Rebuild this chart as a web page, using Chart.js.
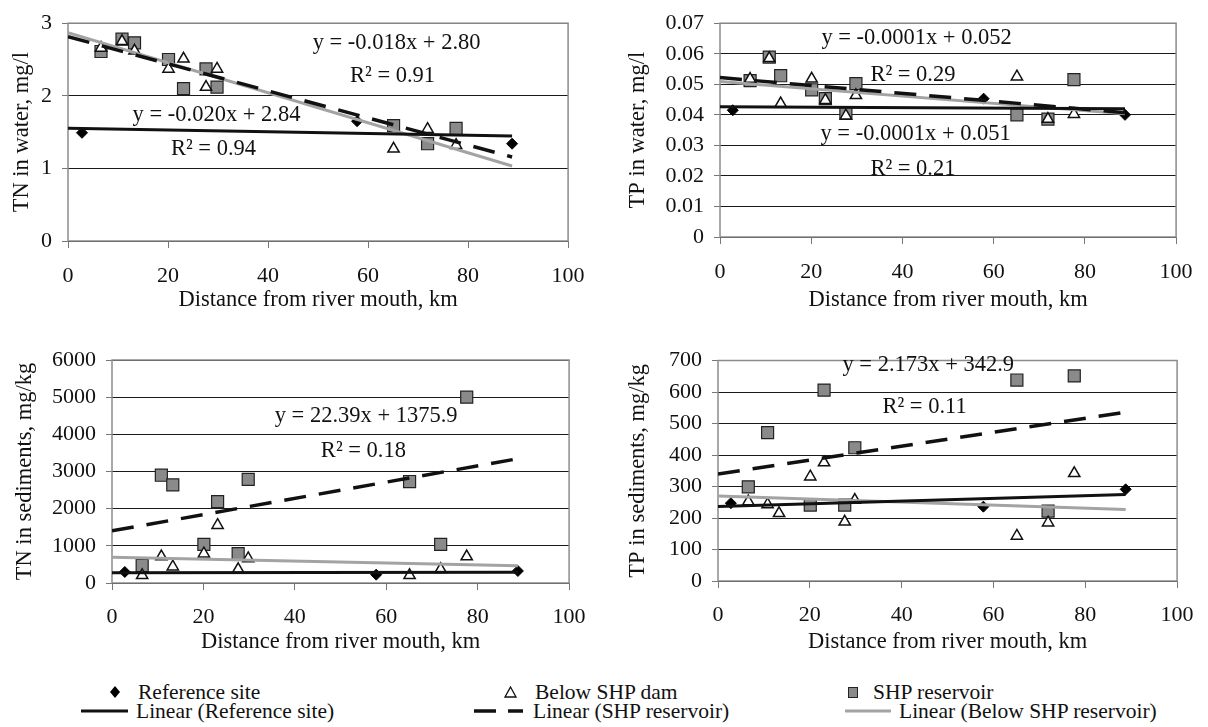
<!DOCTYPE html>
<html>
<head>
<meta charset="utf-8">
<script src="https://cdn.jsdelivr.net/npm/chart.js"></script>
<style>
body { margin:0; background:#fff; width:1208px; height:727px; position:relative; overflow:hidden; font-family:"Liberation Serif", serif; }
canvas { position:absolute; }
.lg { position:absolute; font-size:21.5px; line-height:20px; color:#111; white-space:nowrap; }
.sym { position:absolute; }
</style>
</head>
<body>
<canvas id="tn-water" width="600" height="320" style="left:0;top:0"></canvas>
<canvas id="tp-water" width="608" height="320" style="left:600px;top:0"></canvas>
<canvas id="tn-sed" width="600" height="340" style="left:0;top:320px"></canvas>
<canvas id="tp-sed" width="608" height="340" style="left:600px;top:320px"></canvas>

<svg class="sym" style="left:109px;top:686px" width="12" height="12"><polygon points="6,0 11,6 6,12 1,6" fill="#000"/></svg>
<div class="lg" style="left:138px;top:682px">Reference site</div>
<svg class="sym" style="left:504px;top:686px" width="13" height="12"><polygon points="6.5,1 12,11 1,11" fill="#fff" stroke="#111" stroke-width="1.3"/></svg>
<div class="lg" style="left:535px;top:682px">Below SHP dam</div>
<svg class="sym" style="left:848px;top:687px" width="10" height="11"><rect x="0.5" y="0.5" width="9" height="10" fill="#8a8a8a" stroke="#222" stroke-width="1"/></svg>
<div class="lg" style="left:873px;top:682px">SHP reservoir</div>

<svg class="sym" style="left:81px;top:706px" width="48" height="10"><line x1="0" y1="5" x2="47" y2="5" stroke="#111" stroke-width="3"/></svg>
<div class="lg" style="left:136px;top:701px">Linear (Reference site)</div>
<svg class="sym" style="left:474px;top:706px" width="50" height="10"><line x1="0" y1="5" x2="22" y2="5" stroke="#111" stroke-width="3.5"/><line x1="34" y1="5" x2="49" y2="5" stroke="#111" stroke-width="3.5"/></svg>
<div class="lg" style="left:533px;top:701px">Linear (SHP reservoir)</div>
<svg class="sym" style="left:845px;top:706px" width="47" height="10"><line x1="0" y1="5" x2="46" y2="5" stroke="#a3a3a3" stroke-width="3"/></svg>
<div class="lg" style="left:899px;top:701px">Linear (Below SHP reservoir)</div>

<script>
// distance from river mouth, km
var xRef = [2.8, 57.8, 88.8];
var xSite = [6.6, 10.8, 13.3, 20.1, 23.1, 27.6, 29.8, 65.1, 71.9, 77.6];

// TN in water, mg/l
var tnWaterRef = [1.49, 1.65, 1.34];
var tnWaterDam = [2.66, 2.75, 2.62, 2.37, 2.51, 2.12, 2.37, 1.27, 1.54, 1.32];
var tnWaterRes = [2.61, 2.78, 2.73, 2.50, 2.10, 2.37, 2.12, 1.59, 1.34, 1.55];

// TP in water, mg/l
var tpWaterRef = [0.0415, 0.0453, 0.0400];
var tpWaterDam = [0.0517, 0.0585, 0.0437, 0.0518, 0.0448, 0.0397, 0.0464, 0.0525, 0.0386, 0.0402];
var tpWaterRes = [0.0512, 0.0589, 0.0528, 0.0482, 0.0453, 0.0405, 0.0502, 0.0400, 0.0386, 0.0515];

// TN in sediments, mg/kg
var tnSedRef = [297, 225, 324];
var tnSedDam = [207, 710, 440, 790, 1556, 369, 660, 207, 369, 710];
var tnSedRes = [470, 2900, 2640, 1040, 2190, 790, 2790, 2730, 1040, 5000];

// TP in sediments, mg/kg
var tpSedRef = [247, 236, 291];
var tpSedDam = [252, 243, 215, 331, 376, 188, 257, 143, 185, 342];
var tpSedRes = [299, 471, null, 241, 606, 241, 423, 638, 222, 651];

var xTicks = [0, 20, 40, 60, 80, 100];
var lineEnd = 88.8;
var serif = '"Liberation Serif", "Times New Roman", serif';

function pts(xs, ys) {
    var out = [];
    xs.forEach(function (x, i) { if (ys[i] != null) out.push({x: x, y: ys[i]}); });
    return out;
}

// excel style linear trendline, least squares
function trend(xs, ys) {
    var n = 0, sx = 0, sy = 0, sxx = 0, sxy = 0;
    xs.forEach(function (x, i) {
        var y = ys[i];
        if (y == null) return;
        n++; sx += x; sy += y; sxx += x * x; sxy += x * y;
    });
    var b = (n * sxy - sx * sy) / (n * sxx - sx * sx);
    var a = (sy - b * sx) / n;
    return [{x: 0, y: a}, {x: lineEnd, y: a + b * lineEnd}];
}

function sets(ref, dam, res) {
    return [
        {type: 'line', data: trend(xRef, ref), borderColor: '#111', borderWidth: 3, pointRadius: 0, fill: false, order: 0},
        {type: 'line', data: trend(xSite, res), borderColor: '#111', borderWidth: 3.5, borderDash: [22, 13], pointRadius: 0, fill: false, order: 0},
        {type: 'line', data: trend(xSite, dam), borderColor: '#a3a3a3', borderWidth: 3, pointRadius: 0, fill: false, order: 0},
        {label: 'Reference site', data: pts(xRef, ref), pointStyle: 'rectRot', pointRadius: 5.5, backgroundColor: '#000', borderColor: '#000', borderWidth: 1, order: 1},
        {label: 'Below SHP dam', data: pts(xSite, dam), pointStyle: 'triangle', pointRadius: 6.5, backgroundColor: '#fff', borderColor: '#111', borderWidth: 1.5, order: 2},
        {label: 'SHP reservoir', data: pts(xSite, res), pointStyle: 'rect', pointRadius: 8.5, backgroundColor: '#8a8a8a', borderColor: '#222', borderWidth: 1.2, order: 3}
    ];
}

var frame = {
    id: 'frame',
    beforeDatasetsDraw: function (c) {
        var a = c.chartArea, ctx = c.ctx;
        ctx.save();
        ctx.strokeStyle = '#8c8c8c';
        ctx.lineWidth = 1.5;
        ctx.strokeRect(a.left, a.top, a.right - a.left, a.bottom - a.top);
        ctx.restore();
    }
};

var notes = {
    id: 'notes',
    afterDatasetsDraw: function (c, args, opts) {
        var ctx = c.ctx;
        ctx.save();
        ctx.font = '22.5px ' + serif;
        ctx.fillStyle = '#111';
        ctx.textAlign = 'center';
        ctx.textBaseline = 'middle';
        (opts.items || []).forEach(function (t) {
            ctx.fillText(t[0], c.scales.x.getPixelForValue(t[1]), c.scales.y.getPixelForValue(t[2]));
        });
        ctx.restore();
    }
};

function panel(id, p) {
    return new Chart(document.getElementById(id), {
        type: 'scatter',
        data: {datasets: sets(p.ref, p.dam, p.res)},
        options: {
            responsive: false,
            animation: false,
            events: [],
            layout: {padding: {left: 0, top: p.top, right: p.right, bottom: 0}},
            plugins: {legend: {display: false}, tooltip: {enabled: false}, notes: {items: p.notes}},
            scales: {
                x: {
                    type: 'linear', min: 0, max: 100,
                    afterBuildTicks: function (s) { s.ticks = xTicks.map(function (v) { return {value: v}; }); },
                    afterFit: function (s) { s.height = p.xH; },
                    grid: {drawOnChartArea: false, drawTicks: true, tickLength: 7, tickColor: '#777'},
                    border: {display: false},
                    ticks: {color: '#111', font: {family: serif, size: 22}, padding: p.xPad, maxRotation: 0},
                    title: {display: true, text: 'Distance from river mouth, km', color: '#111', font: {family: serif, size: 22.5}, padding: {top: 0, bottom: p.xTitle}}
                },
                y: {
                    min: 0, max: p.yMax,
                    afterBuildTicks: function (s) { s.ticks = p.yTicks.map(function (v) { return {value: v}; }); },
                    afterFit: function (s) { s.width = p.yW; },
                    grid: {color: '#1a1a1a', lineWidth: 1, tickLength: 6, tickColor: '#777'},
                    border: {display: false},
                    ticks: {color: '#111', font: {family: serif, size: 22}, padding: 10, callback: function (v) { return String(+v.toFixed(4)); }},
                    title: {display: true, text: p.yTitle, color: '#111', font: {family: serif, size: 22.5}, padding: {top: p.yTitlePad, bottom: 0}}
                }
            }
        },
        plugins: [frame, notes]
    });
}

panel('tn-water', {
    ref: tnWaterRef, dam: tnWaterDam, res: tnWaterRes,
    yMax: 3, yTicks: [0, 1, 2, 3], yTitle: 'TN in water, mg/l',
    top: 19, right: 31, yW: 68, xH: 79, xPad: 15.4, xTitle: 6.5, yTitlePad: 8.5,
    notes: [['y = -0.018x + 2.80', 65.7, 2.72], ['R² = 0.91', 64.9, 2.27],
            ['y = -0.020x + 2.84', 29.7, 1.74], ['R² = 0.94', 29.1, 1.27]]
});

panel('tp-water', {
    ref: tpWaterRef, dam: tpWaterDam, res: tpWaterRes,
    yMax: 0.07, yTicks: [0, 0.01, 0.02, 0.03, 0.04, 0.05, 0.06, 0.07], yTitle: 'TP in water, mg/l',
    top: 18, right: 22, yW: 120, xH: 83, xPad: 15.4, xTitle: 6.5, yTitlePad: 25,
    notes: [['y = -0.0001x + 0.052', 43.1, 0.0652], ['R² = 0.29', 42.3, 0.0531],
            ['y = -0.0001x + 0.051', 42.9, 0.0336], ['R² = 0.21', 42.3, 0.0221]]
});

panel('tn-sed', {
    ref: tnSedRef, dam: tnSedDam, res: tnSedRes,
    yMax: 6000, yTicks: [0, 1000, 2000, 3000, 4000, 5000, 6000], yTitle: 'TN in sediments, mg/kg',
    top: 40, right: 29, yW: 112, xH: 77, xPad: 14.4, xTitle: 4.8, yTitlePad: 11.5,
    notes: [['y = 22.39x + 1375.9', 55.6, 4501], ['R² = 0.18', 55.0, 3551]]
});

panel('tp-sed', {
    ref: tpSedRef, dam: tpSedDam, res: tpSedRes,
    yMax: 700, yTicks: [0, 100, 200, 300, 400, 500, 600, 700], yTitle: 'TP in sediments, mg/kg',
    top: 40.5, right: 23, yW: 118, xH: 79, xPad: 14.4, xTitle: 4.8, yTitlePad: 24.1,
    notes: [['y = 2.173x + 342.9', 45.8, 686], ['R² = 0.11', 45.0, 553]]
});
</script>
</body>
</html>
